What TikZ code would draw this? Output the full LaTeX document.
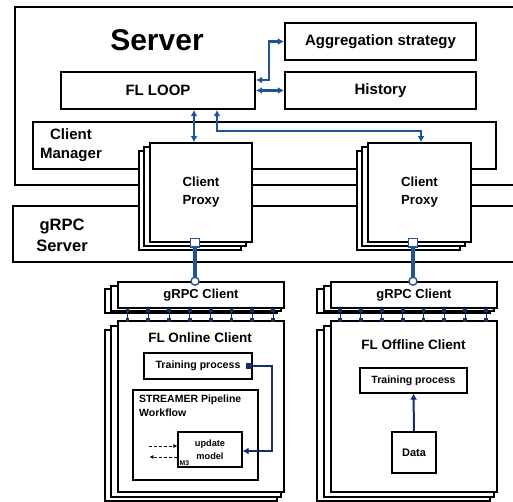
\documentclass[tikz,border=0pt]{standalone}
\usepackage{fontspec}
\setmainfont{Liberation Sans}
\usetikzlibrary{arrows.meta,calc}
\definecolor{lblue}{HTML}{1F5596}
\definecolor{navy}{HTML}{1A2D6B}
\begin{document}
\begin{tikzpicture}[x=1pt,y=-1pt,
  box/.style={draw, fill=white, line width=1.8pt, inner sep=0pt, anchor=center},
  thinbox/.style={draw, fill=white, line width=1.2pt, inner sep=0pt, anchor=center},
  back/.style={draw, fill=white, line width=1.5pt},
  frame/.style={draw, line width=2.8pt},
  bl/.style={draw=lblue, line width=2.4pt, {Latex[length=6pt,width=7pt]}-{Latex[length=6pt,width=7pt]}},
  nv/.style={draw=navy, line width=2pt, -{Latex[length=6pt,width=7pt]}},
  conn/.style={draw=navy, line width=1pt},
  sq/.style={fill=navy, minimum size=3.8pt, inner sep=0pt},
  dsh/.style={draw, densely dashed, line width=0.7pt, -{Latex[length=4pt,width=4pt]}},
  txt/.style={inner sep=0pt, align=center}
]
\useasboundingbox (0,0) rectangle (513,502);
\fill[white] (0,0) rectangle (513,502);

% server frame
\draw[frame] (513,7) -- (15,7) -- (15,185) -- (513,185);
\node[txt, font=\fontsize{30}{34}\selectfont\bfseries] (srv) at (157,40) {Server};
% client manager
\draw[frame, line width=2.3pt] (33,122) rectangle (496,169);
\node[txt, font=\fontsize{15}{19}\selectfont\bfseries] (cm) at (71,145) {Client\\Manager};
% gRPC server
\draw[frame] (513,206) -- (13,206) -- (13,262) -- (513,262);
\node[txt, font=\fontsize{16.5}{21}\selectfont\bfseries] (gs) at (62,235) {gRPC\\Server};

% top boxes
\node[box, line width=2.2pt, minimum width=194pt, minimum height=37pt, font=\fontsize{15}{18}\selectfont\bfseries] (loop) at (158,90.5) {FL LOOP};
\node[box, line width=2.2pt, minimum width=191pt, minimum height=37pt, font=\fontsize{15}{18}\selectfont\bfseries] (agg) at (380.5,41.5) {Aggregation strategy};
\node[box, line width=2.2pt, minimum width=191pt, minimum height=37pt, font=\fontsize{15}{18}\selectfont\bfseries] (hist) at (380.5,90.5) {History};

% proxy stacks
\draw[back] (139,151) rectangle (241,250);
\draw[back] (144,147) rectangle (246,246);
\node[box, minimum width=102pt, minimum height=99pt, align=center, font=\fontsize{13.2}{18}\selectfont\bfseries] (pl) at (201,192.5) {Client\\Proxy};
\draw[back] (357,151) rectangle (460,250);
\draw[back] (362,147) rectangle (465,246);
\node[box, minimum width=103pt, minimum height=99pt, align=center, font=\fontsize{13.2}{18}\selectfont\bfseries] (pr) at (419.5,192.5) {Client\\Proxy};

% blue arrows top
\draw[bl] ([yshift=10.5pt]loop.east) -- ++(13,0) |- (agg.west);
\draw[bl] (loop.east) -- (hist.west);
\draw[bl] ([xshift=36pt]loop.south) -- ([xshift=36pt]loop.south |- pl.north);
\draw[bl] ([xshift=59pt]loop.south) -- ++(0,21) -| ([xshift=1.5pt]pr.north);

% gRPC client stacks (left)
\draw[back, line width=1.3pt] (105,289) rectangle (277,313);
\draw[back, line width=1.3pt] (111,286) rectangle (281,311);
\node[box, line width=1.5pt, minimum width=166pt, minimum height=26pt, font=\fontsize{13}{16}\selectfont\bfseries] (gcl) at (201,295) {gRPC Client};
\draw[back, line width=1.3pt] (105,330) rectangle (277,501);
\draw[back, line width=1.3pt] (111,326) rectangle (281,497);
\node[box, line width=1.5pt, minimum width=166pt, minimum height=171pt] (onl) at (201,406.5) {};
\node[txt, font=\fontsize{13.5}{16}\selectfont\bfseries] (onlt) at (200,338) {FL Online Client};

% gRPC client stacks (right)
\draw[back, line width=1.3pt] (317,289) rectangle (490,313);
\draw[back, line width=1.3pt] (324,286) rectangle (494,311);
\node[box, line width=1.5pt, minimum width=166pt, minimum height=26pt, font=\fontsize{13}{16}\selectfont\bfseries] (gcr) at (414,295) {gRPC Client};
\draw[back, line width=1.3pt] (317,330) rectangle (490,501);
\draw[back, line width=1.3pt] (324,326) rectangle (494,497);
\node[box, line width=1.5pt, minimum width=166pt, minimum height=171pt] (off) at (414,406.5) {};
\node[txt, font=\fontsize{13.5}{16}\selectfont\bfseries] (offt) at (413.5,345) {FL Offline Client};

% connectors between gRPC clients and FL clients
\foreach \i in {0,...,7}{
  \draw[conn] ([xshift=10.3+\i*20.8]gcl.south west) coordinate (la\i) -- ([xshift=10.3+\i*20.8]onl.north west) coordinate (lb\i);
  \node[sq] at ([yshift=-1.5pt]la\i) {};
  \node[sq] at (lb\i) {};
  \draw[conn] ([xshift=9.8+\i*20.85]gcr.south west) coordinate (ra\i) -- ([xshift=9.8+\i*20.85]off.north west) coordinate (rb\i);
  \node[sq] at ([yshift=-1.5pt]ra\i) {};
  \node[sq] at (rb\i) {};
}

% proxy -> gRPC client links
\draw[draw=lblue, line width=3.2pt] ([xshift=-6pt]pl.south) -- ([xshift=-6pt]gcl.north);
\node[draw=lblue, fill=white, line width=1.4pt, minimum size=8.5pt, inner sep=0pt] (sql) at ([xshift=-6pt]pl.south) {};
\node[draw=lblue, fill=white, line width=1.4pt, circle, minimum size=8pt, inner sep=0pt] (cil) at ([xshift=-6pt]gcl.north) {};
\draw[draw=lblue, line width=3.2pt] ([xshift=-6.5pt]pr.south) -- ([xshift=-1pt]gcr.north);
\node[draw=lblue, fill=white, line width=1.4pt, minimum size=8.5pt, inner sep=0pt] (sqr) at ([xshift=-6.5pt]pr.south) {};
\node[draw=lblue, fill=white, line width=1.4pt, circle, minimum size=8pt, inner sep=0pt] (cir) at ([xshift=-1pt]gcr.north) {};

% online client internals
\node[thinbox, minimum width=108pt, minimum height=26pt, font=\fontsize{10.6}{13}\selectfont\bfseries] (trl) at (198,366) {Training process\hspace{9pt}};
\node[thinbox, minimum width=125pt, minimum height=90pt] (stm) at (195.5,435) {};
\node[txt, anchor=north west, align=left, font=\fontsize{10.5}{14}\selectfont\bfseries] (stmt) at (139,395) {STREAMER Pipeline\\Workflow};
\node[thinbox, minimum width=64pt, minimum height=35pt, align=center, font=\fontsize{9.2}{12.5}\selectfont\bfseries] (upd) at (210,449.5) {update\\model};
\node[txt, anchor=south west, font=\fontsize{6.8}{7}\selectfont\bfseries] (m3) at ([xshift=2pt,yshift=1.5pt]upd.south west) {M3};
\node[sq, minimum size=6pt, anchor=east] (mk) at ([xshift=-0.6pt]trl.east) {};
\draw[nv] (mk.east) -- ++(20,0) |- ([yshift=-1.5pt]upd.east);
\coordinate (d1) at ([xshift=-28pt,yshift=3.5pt]upd.west);
\coordinate (d2) at ([xshift=-28pt,yshift=-7.5pt]upd.west);
\draw[dsh] (d1) -- ([yshift=3.5pt]upd.west);
\draw[dsh] ([yshift=-7.5pt]upd.west) -- (d2);

% offline client internals
\node[thinbox, minimum width=107pt, minimum height=25pt, font=\fontsize{10.5}{13}\selectfont\bfseries] (trr) at (413.5,380.5) {Training process};
\node[thinbox, minimum width=44pt, minimum height=41pt, font=\fontsize{11}{13}\selectfont\bfseries] (data) at (414,452.5) {Data};
\draw[nv] (data.north) -- (trr.south);
\end{tikzpicture}
\end{document}
